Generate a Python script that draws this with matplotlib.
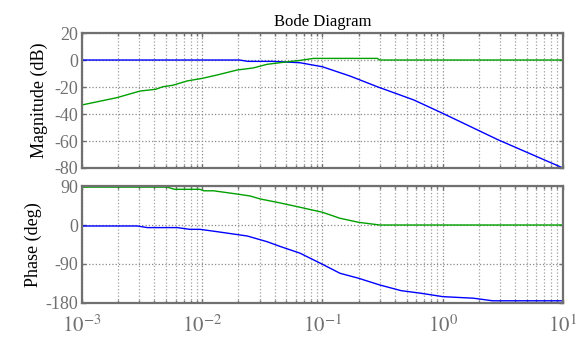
import matplotlib
matplotlib.use("Agg")
import numpy as np
from matplotlib import pyplot as plt
from matplotlib.ticker import LogLocator, NullFormatter, FixedLocator

plt.rcParams["font.family"] = ["Liberation Serif", "DejaVu Serif"]
plt.rcParams["mathtext.fontset"] = "stix"

# frequencies (rad/s) and values
freq_blue_mag = [0.001, 0.0205, 0.024, 0.039, 0.065, 0.1, 0.171, 0.286, 0.575, 1.0, 2.87, 10.0]
mag_blue = [0, 0, -1, -1, -2, -5, -12, -19.8, -29.6, -39.5, -59, -80]

freq_green_mag = [0.001, 0.00195, 0.00304, 0.0041, 0.0047, 0.0057, 0.0075, 0.01, 0.0133,
                  0.0195, 0.0265, 0.0346, 0.047, 0.065, 0.084, 0.286, 0.30, 10.0]
mag_green = [-33.3, -27.9, -23, -21.7, -19.8, -18.7, -15.5, -13.6, -11.1,
             -7.4, -5.9, -3.2, -1.7, -0.3, 1.2, 1.2, 0, 0]

freq_green_ph = [0.001, 0.0051, 0.0059, 0.0096, 0.0103, 0.0124, 0.0195, 0.025, 0.0305,
                 0.042, 0.065, 0.1, 0.14, 0.2, 0.3, 10.0]
ph_green = [87.5, 87.5, 82.4, 82.4, 79, 79, 71.5, 67, 60, 52.4, 41, 29.4, 15.5, 6.2, 0, 0]

freq_blue_ph = [0.001, 0.0029, 0.0035, 0.0062, 0.0079, 0.0096, 0.0133, 0.0237, 0.0346,
                0.045, 0.065, 0.1, 0.14, 0.2, 0.3, 0.45, 0.66, 1.0, 1.8, 2.6, 10.0]
ph_blue = [-2.3, -2.3, -6, -6, -10, -10, -15.4, -25.4, -38.5,
           -50, -65, -90.7, -111.5, -123, -138.5, -151.5, -157.6, -165.4, -169, -175, -175]

mag_ticks = [20, 0, -20, -40, -60, -80]
ph_ticks = [90, 0, -90, -180]
x_ticks = [1e-3, 1e-2, 1e-1, 1e0, 1e1]
x_labels = ["$10^{-3}$", "$10^{-2}$", "$10^{-1}$", "$10^{0}$", "$10^{1}$"]

BLUE = "#0000ff"
GREEN = "#00a000"
GREY = "#707070"

fig = plt.figure(figsize=(5.81, 3.37), dpi=100)
ax1 = fig.add_axes([0.141, 0.5015, 0.828, 0.4005])
ax2 = fig.add_axes([0.141, 0.101, 0.828, 0.347])


def style(ax):
    ax.set_xscale("log")
    ax.set_xlim(1e-3, 1e1)
    ax.xaxis.set_major_locator(FixedLocator(x_ticks))
    ax.xaxis.set_minor_locator(LogLocator(base=10, subs=np.arange(2, 10), numticks=20))
    ax.xaxis.set_minor_formatter(NullFormatter())
    ax.grid(True, which="major", axis="both", color="#8a8a8a", linestyle=":", linewidth=0.9)
    ax.grid(True, which="minor", axis="x", color="#a0a0a0", linestyle=":", linewidth=0.9)
    ax.tick_params(which="both", direction="in", top=True, right=True, colors=GREY,
                   labelsize=13, length=3, width=1, pad=3)
    ax.tick_params(which="minor", length=2)
    for s in ax.spines.values():
        s.set_color(GREY)
        s.set_linewidth(1.6)
    ax.set_axisbelow(True)


style(ax1)
ax1.plot(freq_blue_mag, mag_blue, color=BLUE, lw=1)
ax1.plot(freq_green_mag, mag_green, color=GREEN, lw=1)
ax1.set_ylim(-80, 20)
ax1.set_yticks(mag_ticks)
ax1.set_yticklabels([str(t) for t in mag_ticks])
ax1.set_xticklabels([])
ax1.set_ylabel("Magnitude (dB)", fontsize=13, labelpad=4)
ax1.set_title("Bode Diagram", fontsize=12, pad=5)

style(ax2)
ax2.plot(freq_green_ph, ph_green, color=GREEN, lw=1)
ax2.plot(freq_blue_ph, ph_blue, color=BLUE, lw=1)
ax2.set_ylim(-180, 90)
ax2.set_yticks(ph_ticks)
ax2.set_yticklabels([str(t) for t in ph_ticks])
ax2.set_xticklabels(x_labels, fontsize=15)
ax2.tick_params(axis="x", pad=9)
ax2.set_ylabel("Phase (deg)", fontsize=13, labelpad=2)

fig.savefig("out.png", dpi=100)
